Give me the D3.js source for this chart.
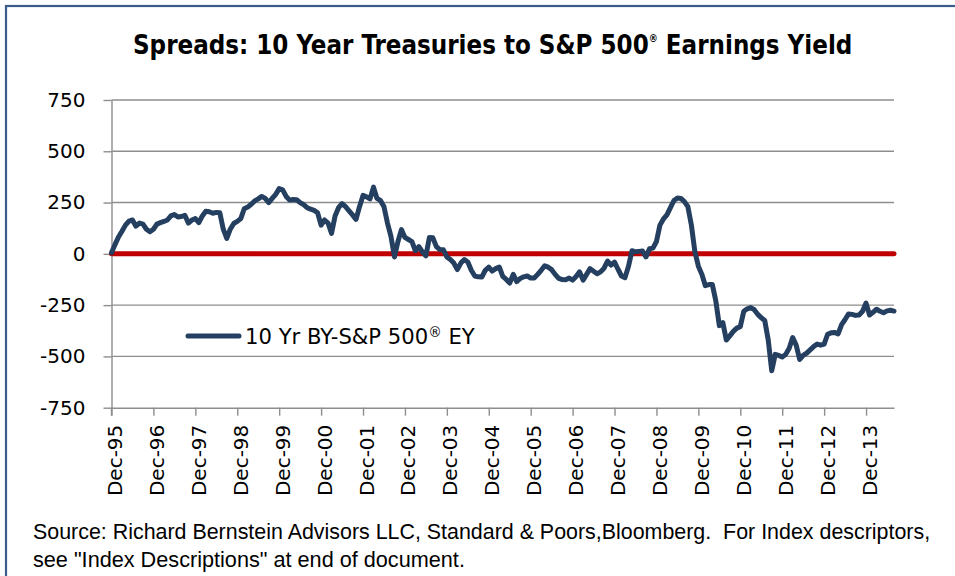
<!DOCTYPE html>
<html><head><meta charset="utf-8">
<script src="https://cdn.jsdelivr.net/npm/d3@7"></script>
<style>body{margin:0;background:#fff}svg{display:block}</style>
</head><body>
<svg id="chart" width="955" height="576"></svg>
<script>
// Monthly spread (bp), Dec-1995 .. Aug-2014
const firstMonth = "1995-12";
const spread = [
  5, 45, 82, 110, 140, 160, 165, 135, 150, 145, 120, 108,
  120, 145, 152, 158, 165, 185, 192, 180, 182, 188, 150, 165,
  172, 152, 185, 208, 205, 198, 202, 200, 120, 75, 120, 148,
  158, 172, 220, 228, 242, 258, 268, 280, 270, 250, 270, 290,
  318, 312, 280, 262, 265, 264, 250, 240, 225, 218, 212, 200,
  140, 165, 150, 100, 185, 225, 245, 230, 210, 190, 168, 230,
  285, 278, 268, 325, 270, 260, 230, 150, 85, -15, 60, 118,
  80, 70, 60, 15, 35, 10, -10, 80, 78, 35, 20, 20,
  -15, -28, -45, -77, -45, -28, -40, -80, -108, -112, -113, -80,
  -65, -84, -72, -64, -110, -125, -142, -100, -135, -120, -112, -108,
  -118, -118, -100, -80, -58, -65, -77, -100, -120, -125, -126, -118,
  -128, -110, -88, -128, -100, -72, -85, -97, -88, -70, -35, -55,
  -40, -75, -108, -116, -60, 15, 10, 12, 14, -15, 25, 28,
  60, 140, 170, 190, 225, 260, 272, 270, 255, 230, 140, 10,
  -60, -100, -155, -150, -150, -230, -350, -335, -420, -400, -378, -362,
  -355, -280, -268, -262, -272, -295, -312, -325, -420, -570, -490, -495,
  -503, -490, -460, -408, -445, -515, -495, -484, -468, -452, -440, -445,
  -440, -392, -385, -383, -390, -345, -320, -293, -295, -300, -298, -280,
  -240, -298, -285, -270, -280, -287, -278, -275, -279
];
const xTickLabels = ["Dec-95","Dec-96","Dec-97","Dec-98","Dec-99","Dec-00","Dec-01","Dec-02","Dec-03",
  "Dec-04","Dec-05","Dec-06","Dec-07","Dec-08","Dec-09","Dec-10","Dec-11","Dec-12","Dec-13"];
const yTicks = [750, 500, 250, 0, -250, -500, -750];
const titleMain = "Spreads: 10 Year Treasuries to S&P 500";
const titleEnd = " Earnings Yield";
const seriesName = "10 Yr BY-S&P 500";
const sourceLines = ["Source: Richard Bernstein Advisors LLC, Standard & Poors,Bloomberg.  For Index descriptors,",
  "see \"Index Descriptions\" at end of document."];

const svg = d3.select("#chart");
const L = 111.5, R = 894, T = 100, B = 407.7;

// frame
svg.append("rect").attr("x", 6).attr("y", 6).attr("width", 970).attr("height", 600)
  .attr("fill", "none").attr("stroke", "#3B5C88").attr("stroke-width", 2.2);

const x = d3.scaleLinear().domain([0, spread.length - 1]).range([L, R]);
const y = d3.scaleLinear().domain([-750, 750]).range([B, T]);

// gridlines
svg.append("g").selectAll("line").data(yTicks.filter(v => v > -750)).join("line")
  .attr("x1", L).attr("x2", R).attr("y1", d => y(d)).attr("y2", d => y(d))
  .attr("stroke", "#8E8E8E").attr("stroke-width", 1.4);

// y axis
const gy = svg.append("g").attr("transform", `translate(${L},0)`)
  .call(d3.axisLeft(y).tickValues(yTicks).tickSize(8).tickSizeOuter(0).tickFormat(d => String(d)));
gy.select(".domain").attr("stroke", "#8E8E8E").attr("stroke-width", 1.4);
gy.selectAll(".tick line").attr("stroke", "#8E8E8E").attr("stroke-width", 1.4);
gy.selectAll(".tick text").attr("font-family", "DejaVu Sans, Verdana, sans-serif")
  .attr("font-size", 20).attr("fill", "#000").attr("x", -26);

// x axis
const tickIdx = xTickLabels.map((_, i) => i * 12);
const gx = svg.append("g").attr("transform", `translate(0,${B})`)
  .call(d3.axisBottom(x).tickValues(tickIdx).tickSize(8).tickSizeOuter(0)
    .tickFormat((d, i) => xTickLabels[i]));
gx.select(".domain").attr("stroke", "#8E8E8E").attr("stroke-width", 1.4);
gx.selectAll(".tick line").attr("stroke", "#8E8E8E").attr("stroke-width", 1.4);
gx.selectAll(".tick text").attr("font-family", "DejaVu Sans, Verdana, sans-serif")
  .attr("font-size", 20).attr("fill", "#000")
  .attr("transform", "rotate(-90)").attr("text-anchor", "end")
  .attr("x", -17).attr("y", 0).attr("dy", "0.5em");
svg.append("line").attr("x1", L).attr("x2", L).attr("y1", B).attr("y2", B + 8)
  .attr("stroke", "#8E8E8E").attr("stroke-width", 1.4);

// zero line
svg.append("line").attr("x1", x(0)).attr("x2", x(spread.length - 1)).attr("y1", y(0)).attr("y2", y(0))
  .attr("stroke", "#C00000").attr("stroke-width", 5).attr("stroke-linecap", "round");

// data line
const line = d3.line().x((d, i) => x(i)).y(d => y(d));
svg.append("path").datum(spread).attr("d", line)
  .attr("fill", "none").attr("stroke", "#243F60").attr("stroke-width", 5)
  .attr("stroke-linejoin", "round").attr("stroke-linecap", "round");

// legend
svg.append("line").attr("x1", 188).attr("x2", 239).attr("y1", 336).attr("y2", 336)
  .attr("stroke", "#243F60").attr("stroke-width", 5).attr("stroke-linecap", "round");
const lt = svg.append("text").attr("x", 245).attr("y", 344)
  .attr("font-family", "DejaVu Sans, Verdana, sans-serif").attr("font-size", 21).attr("fill", "#000");
lt.append("tspan").text(seriesName);
lt.append("tspan").attr("font-size", 13.5).attr("dy", -7).text("®");
lt.append("tspan").attr("dy", 7).text(" EY");
const lw = lt.node().getComputedTextLength();
lt.attr("font-size", 21 * 230 / lw);

// title
const tt = svg.append("text").attr("x", 133).attr("y", 54)
  .attr("font-family", "'Liberation Sans Narrow', 'Arial Narrow', 'DejaVu Sans Condensed', sans-serif")
  .attr("font-weight", "bold").attr("font-size", 28).attr("fill", "#000");
tt.append("tspan").text(titleMain);
tt.append("tspan").attr("font-size", 11).attr("dy", -12).text("®");
tt.append("tspan").attr("dy", 12).text(titleEnd);
const tw = tt.node().getComputedTextLength();
tt.attr("font-size", 28 * 720 / tw);
tt.selectAll("tspan").filter((d, i) => i === 1).attr("font-size", 11 * 720 / tw);

// source
const srcWidths = [898, 432];
sourceLines.forEach((s, i) => {
  const t = svg.append("text").attr("x", 33).attr("y", 539 + i * 28)
    .attr("font-family", "'Liberation Sans Narrow', 'Arial Narrow', sans-serif")
    .attr("font-size", 19).attr("fill", "#000").attr("xml:space", "preserve")
    .style("white-space", "pre").text(s);
  const w = t.node().getComputedTextLength();
  t.attr("font-size", 19 * srcWidths[i] / w);
});
</script>
</body></html>
